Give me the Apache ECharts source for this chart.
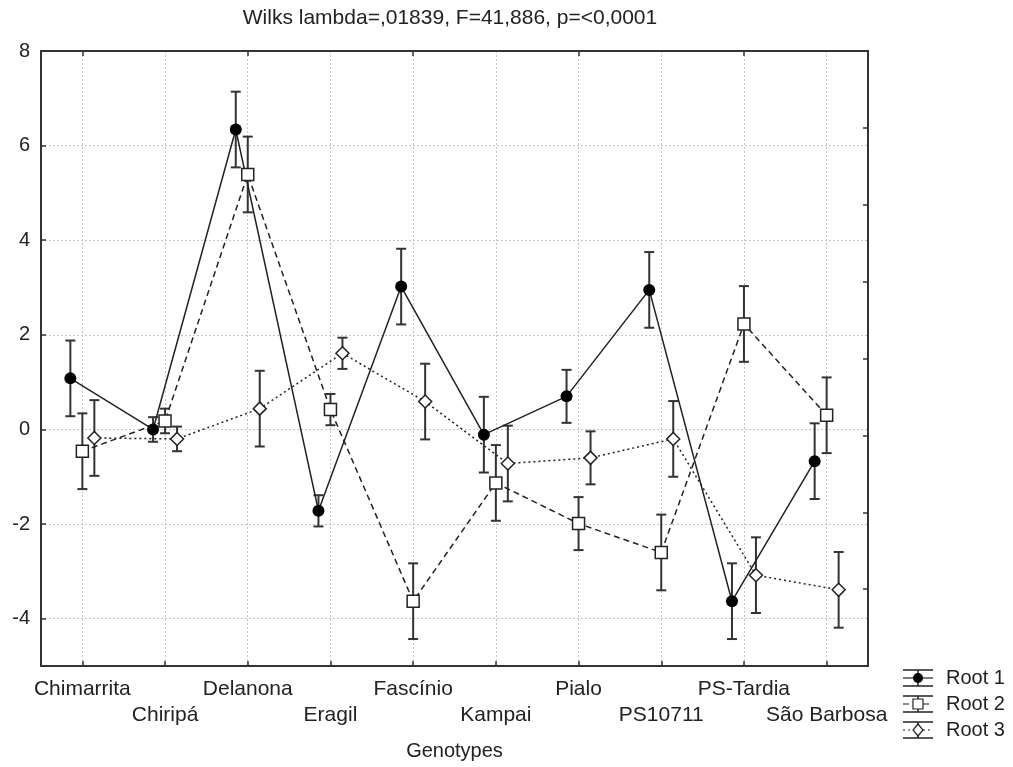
<!DOCTYPE html>
<html>
<head>
<meta charset="utf-8">
<script src="https://cdn.jsdelivr.net/npm/echarts@6/dist/echarts.min.js"></script>
<style>
  html, body { margin: 0; padding: 0; background: #fff; }
  #chart { width: 1013px; height: 767px; }
</style>
</head>
<body>
<div id="chart"></div>
<script>
var genotypes = ['Chimarrita', 'Chiripá', 'Delanona', 'Eragil', 'Fascínio', 'Kampai', 'Pialo', 'PS10711', 'PS-Tardia', 'São Barbosa'];
var root1 = [1.08, 0.00, 6.34, -1.72, 3.02, -0.11, 0.70, 2.95, -3.63, -0.67];
var root2 = [-0.46, 0.18, 5.39, 0.42, -3.63, -1.13, -1.99, -2.60, 2.23, 0.30];
var root3 = [-0.18, -0.20, 0.44, 1.61, 0.59, -0.72, -0.60, -0.20, -3.08, -3.39];
// half width of the confidence interval, same for the three roots of a genotype
var halfCI = [0.80, 0.26, 0.80, 0.33, 0.80, 0.80, 0.56, 0.80, 0.80, 0.80];
var roots = ['Root 1', 'Root 2', 'Root 3'];
var titleText = 'Wilks lambda=,01839, F=41,886, p=<0,0001';

var FONT = '"Liberation Sans", Arial, sans-serif';
var INK = '#222';

var rootValues = [root1, root2, root3];
var rootShift = [-0.145, 0, 0.145];
var rootLine = ['solid', [6, 4], [2, 3]];
var rootSymbol = ['circle', 'rect', 'diamond'];
var rootSymbolSize = [12, 12, 13];
var rootFill = ['#000', '#fff', '#fff'];

function errorBar(params, api) {
    var x = api.value(0);
    var top = api.coord([x, api.value(2)]);
    var bottom = api.coord([x, api.value(1)]);
    var w = 5;
    var st = {stroke: '#333', lineWidth: 2};
    return {
        type: 'group',
        children: [
            {type: 'line', shape: {x1: top[0], y1: top[1], x2: bottom[0], y2: bottom[1]}, style: st},
            {type: 'line', shape: {x1: top[0] - w, y1: top[1], x2: top[0] + w, y2: top[1]}, style: st},
            {type: 'line', shape: {x1: bottom[0] - w, y1: bottom[1], x2: bottom[0] + w, y2: bottom[1]}, style: st}
        ]
    };
}

var series = [];
for (var r = 0; r < roots.length; r++) {
    var pts = [], bars = [];
    for (var i = 0; i < genotypes.length; i++) {
        var x = i + rootShift[r];
        var v = rootValues[r][i];
        pts.push([x, v]);
        bars.push([x, v - halfCI[i], v + halfCI[i]]);
    }
    series.push({
        name: roots[r] + ' CI',
        type: 'custom',
        xAxisIndex: 2,
        yAxisIndex: 0,
        renderItem: errorBar,
        encode: {x: 0, y: [1, 2]},
        data: bars,
        z: 2,
        silent: true
    });
    series.push({
        name: roots[r],
        type: 'line',
        xAxisIndex: 2,
        yAxisIndex: 0,
        data: pts,
        symbol: rootSymbol[r],
        symbolSize: rootSymbolSize[r],
        showSymbol: true,
        lineStyle: {color: INK, width: 1.5, type: rootLine[r]},
        itemStyle: {color: rootFill[r], borderColor: INK, borderWidth: r === 0 ? 0 : 1.5},
        z: 3,
        animation: false
    });
}

// legend drawn by hand: line with marker and error bar icon
var legendItems = [];
for (var k = 0; k < roots.length; k++) {
    var cy = 678 + 26 * k;
    var cx = 918;
    var st = {stroke: INK, lineWidth: 1.5};
    legendItems.push({type: 'line', shape: {x1: 903, y1: cy - 8, x2: 933, y2: cy - 8}, style: st});
    legendItems.push({type: 'line', shape: {x1: 903, y1: cy + 8, x2: 933, y2: cy + 8}, style: st});
    legendItems.push({type: 'line', shape: {x1: cx, y1: cy - 8, x2: cx, y2: cy + 8}, style: st});
    legendItems.push({type: 'line', shape: {x1: 903, y1: cy, x2: 933, y2: cy},
        style: {stroke: INK, lineWidth: 1.2, lineDash: rootLine[k] === 'solid' ? null : rootLine[k]}});
    var marker;
    if (k === 0) {
        marker = {type: 'circle', shape: {cx: cx, cy: cy, r: 5}, style: {fill: '#000'}};
    } else if (k === 1) {
        marker = {type: 'rect', shape: {x: cx - 5, y: cy - 5, width: 10, height: 10}, style: {fill: '#fff', stroke: INK, lineWidth: 1.2}};
    } else {
        marker = {type: 'polygon', shape: {points: [[cx, cy - 6], [cx + 5, cy], [cx, cy + 6], [cx - 5, cy]]}, style: {fill: '#fff', stroke: INK, lineWidth: 1.2}};
    }
    marker.z = 5;
    legendItems.push(marker);
    legendItems.push({type: 'text', x: 946, y: cy, style: {text: roots[k], font: '20px ' + FONT, fill: INK, textVerticalAlign: 'middle'}});
}
legendItems.push({type: 'text', x: 450, y: 18, style: {text: titleText, font: '21px ' + FONT, fill: INK, textAlign: 'center', textVerticalAlign: 'middle'}});

var frame = {show: true, onZero: false, lineStyle: {color: '#333', width: 2}};
var dotted = {show: true, lineStyle: {color: '#c4c4c4', width: 1, type: [2, 2]}};

var option = {
    animation: false,
    backgroundColor: '#fff',
    textStyle: {fontFamily: FONT},
    grid: {left: 41, top: 51, right: 145, bottom: 101, containLabel: false},
    xAxis: [{
        type: 'category',
        data: genotypes,
        position: 'bottom',
        boundaryGap: true,
        axisLine: frame,
        axisTick: {show: true, inside: true, alignWithLabel: true, length: 5, lineStyle: {color: '#333', width: 1.5}},
        axisLabel: {
            interval: 0, margin: 10, color: INK, fontSize: 21, lineHeight: 26, fontFamily: FONT,
            formatter: function (v, i) { return i % 2 ? '\n' + v : v; }
        },
        splitLine: {show: true, alignWithLabel: true, lineStyle: {color: '#c4c4c4', width: 1, type: [2, 2]}},
        name: 'Genotypes',
        nameLocation: 'middle',
        nameGap: 75,
        nameTextStyle: {color: INK, fontSize: 20, fontFamily: FONT}
    }, {
        type: 'category',
        data: genotypes,
        position: 'top',
        boundaryGap: true,
        axisLine: frame,
        axisTick: {show: true, inside: true, alignWithLabel: true, length: 5, lineStyle: {color: '#333', width: 1.5}},
        axisLabel: {show: false},
        splitLine: {show: false}
    }, {
        type: 'value',
        min: -0.5,
        max: 9.5,
        show: false,
        axisLine: {onZero: false},
        splitLine: {show: false}
    }],
    yAxis: [{
        type: 'value',
        position: 'left',
        min: -5,
        max: 8,
        minInterval: 2,
        maxInterval: 2,
        axisLine: frame,
        axisTick: {show: true, inside: true, length: 5, lineStyle: {color: '#333', width: 1.5}},
        axisLabel: {color: INK, fontSize: 20, margin: 11, fontFamily: FONT, showMinLabel: false},
        splitLine: dotted
    }, {
        type: 'value',
        position: 'right',
        min: 0,
        max: 8,
        interval: 1,
        axisLine: frame,
        axisTick: {show: true, inside: true, length: 5, lineStyle: {color: '#333', width: 1.5}},
        axisLabel: {show: false},
        splitLine: {show: false}
    }],
    graphic: legendItems,
    series: series
};

var myChart = echarts.init(document.getElementById('chart'), null, {renderer: 'canvas'});
myChart.setOption(option);
</script>
</body>
</html>
